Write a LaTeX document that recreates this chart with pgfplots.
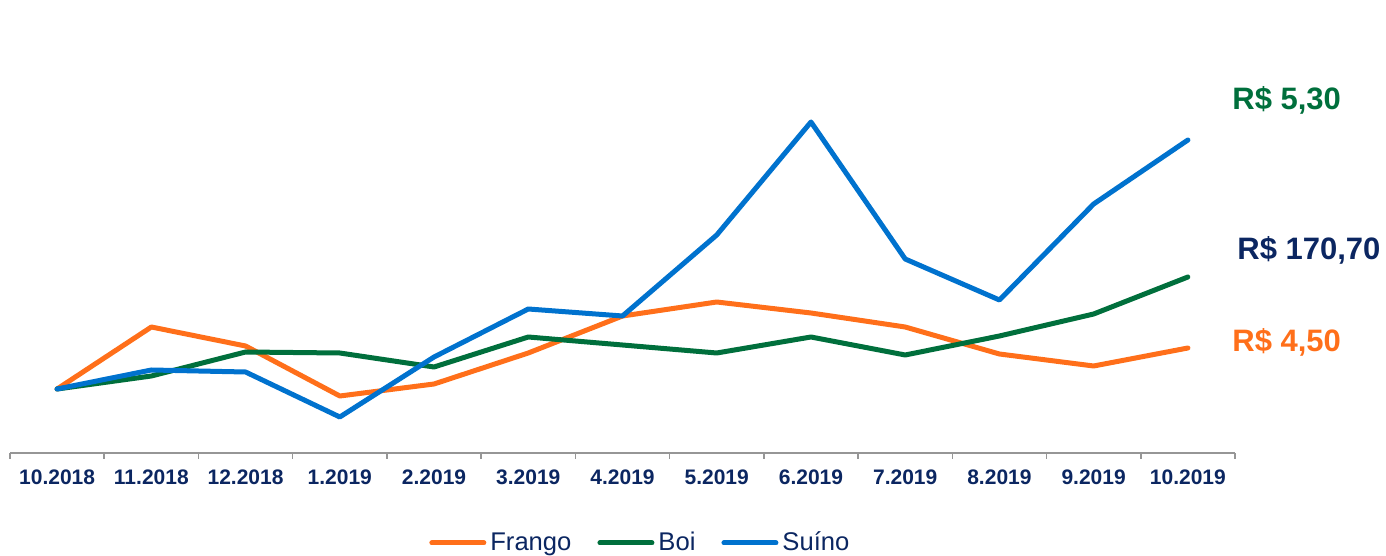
\documentclass[border=0pt]{standalone}
\usepackage{pgfplots}
\pgfplotsset{compat=1.18}
\usepackage{fontspec}
\setmainfont{Liberation Sans}
\definecolor{frango}{RGB}{255,111,26}
\definecolor{boi}{RGB}{0,111,60}
\definecolor{suino}{RGB}{0,114,206}
\definecolor{navy}{RGB}{11,38,97}
\definecolor{axgray}{RGB}{150,150,150}
\begin{document}
\begin{tikzpicture}
\useasboundingbox (0,0) rectangle (693pt,278pt);
\begin{axis}[
  at={(5pt,51.5pt)}, anchor=south west,
  scale only axis, width=612.5pt, height=226.5pt,
  xmin=-0.5, xmax=12.5, ymin=0, ymax=453,
  axis x line=bottom, axis y line=none,
  axis line style={draw=axgray, line width=0.8pt, -},
  xtick={0,...,12},
  xticklabels={10.2018,11.2018,12.2018,1.2019,2.2019,3.2019,4.2019,5.2019,6.2019,7.2019,8.2019,9.2019,10.2019},
  major tick length=0pt,
  xticklabel style={font=\bfseries\fontsize{10.5pt}{12pt}\selectfont, text=navy, yshift=-5pt},
  extra x ticks={-0.5,0.5,...,12.5},
  extra x tick labels={},
  extra x tick style={major tick length=3pt, tick align=outside, tick style={draw=axgray, line width=0.8pt}},
  clip=false,
  legend columns=3,
  legend style={at={(axis cs:6.2,-90)}, anchor=center, draw=none, fill=none,
    font=\fontsize{12.8pt}{14pt}\selectfont, text=navy,
    /tikz/every even column/.append style={column sep=11pt}},
  legend image code/.code={\draw[#1, line width=2.5pt, line cap=round] (0pt,0pt) -- (26pt,0pt);},
]
\addplot[frango, line width=2.5pt, line join=round, line cap=round] coordinates {
(0,64) (1,126) (2,107) (3,57) (4,69) (5,100) (6,137) (7,151) (8,140) (9,126) (10,99) (11,87) (12,105)};
\addlegendentry{Frango}
\addplot[boi, line width=2.5pt, line join=round, line cap=round] coordinates {
(0,64) (1,77) (2,101) (3,100) (4,86) (5,116) (6,108) (7,100) (8,116) (9,98) (10,117) (11,139) (12,176)};
\addlegendentry{Boi}
\addplot[suino, line width=2.5pt, line join=round, line cap=round] coordinates {
(0,64) (1,83) (2,81) (3,36) (4,96) (5,144) (6,137) (7,218) (8,331) (9,194) (10,153) (11,249) (12,313)};
\addlegendentry{Suíno}
\end{axis}
\node[anchor=base west, inner sep=0pt, text=boi, font=\bfseries\fontsize{15.5pt}{18pt}\selectfont] at (616pt,223pt) {R\$ 5,30};
\node[anchor=base west, inner sep=0pt, text=navy, font=\bfseries\fontsize{15.5pt}{18pt}\selectfont] at (618.5pt,148pt) {R\$ 170,70};
\node[anchor=base west, inner sep=0pt, text=frango, font=\bfseries\fontsize{15.5pt}{18pt}\selectfont] at (616pt,102pt) {R\$ 4,50};
\end{tikzpicture}
\end{document}
